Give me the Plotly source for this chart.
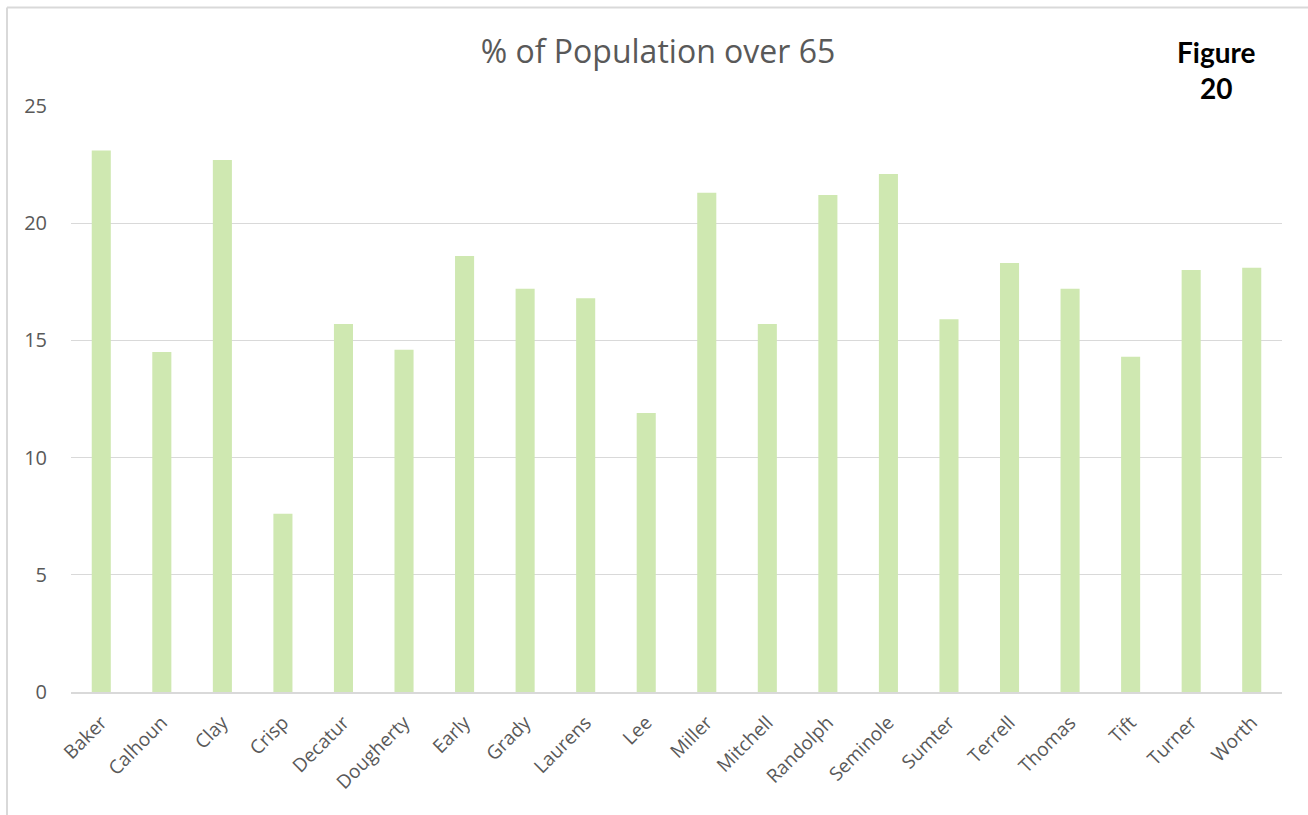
import plotly.graph_objects as go

counties = ["Baker", "Calhoun", "Clay", "Crisp", "Decatur", "Dougherty", "Early", "Grady",
            "Laurens", "Lee", "Miller", "Mitchell", "Randolph", "Seminole", "Sumter",
            "Terrell", "Thomas", "Tift", "Turner", "Worth"]
pct_over_65 = [23.1, 14.5, 22.7, 7.6, 15.7, 14.6, 18.6, 17.2, 16.8, 11.9,
               21.3, 15.7, 21.2, 22.1, 15.9, 18.3, 17.2, 14.3, 18.0, 18.1]
y_ticks = [0, 5, 10, 15, 20, 25]

W, H = 1308, 815
L, R, T, B = 71, 26, 106, 123
pw, ph = W - L - R, H - T - B

def px(x):
    return (x - L) / pw

def py(y):
    return (H - B - y) / ph

fig = go.Figure(go.Bar(
    x=counties, y=pct_over_65,
    marker=dict(color="#CFE8B1", line=dict(width=0)),
))

fig.update_layout(
    width=W, height=H,
    margin=dict(l=L, r=R, t=T, b=B, pad=0),
    paper_bgcolor="white", plot_bgcolor="white",
    bargap=0.685,
    showlegend=False,
    font=dict(family="Open Sans", color="#595959"),
    title=dict(text="% of Population over 65", x=(658) / W, xanchor="center",
               y=1 - 52 / H, yanchor="middle",
               font=dict(family="Open Sans", size=32, color="#595959")),
    xaxis=dict(showgrid=False, showline=True, linecolor="#D9D9D9", linewidth=2,
               ticks="", tickangle=-45, tickfont=dict(size=19, color="#595959"),
               ticklabelstandoff=10),
    yaxis=dict(range=[0, 25], tickvals=y_ticks, showgrid=True, gridcolor="#D9D9D9",
               gridwidth=1, zeroline=False, showline=False, ticks="",
               tickfont=dict(size=20, color="#595959"), ticklabelstandoff=23),
    annotations=[dict(text="<b>Figure</b><br><b>20</b>", xref="paper", yref="paper",
                      x=px(1216), y=py(70), xanchor="center", yanchor="middle",
                      showarrow=False, align="center",
                      font=dict(family="Lato", size=28, color="black"))],
    shapes=[
        dict(type="line", xref="paper", yref="paper", x0=px(7), x1=px(1308),
             y0=py(7.5), y1=py(7.5), line=dict(color="#D9D9D9", width=2)),
        dict(type="line", xref="paper", yref="paper", x0=px(7), x1=px(7),
             y0=py(7.5), y1=py(815), line=dict(color="#D9D9D9", width=2)),
    ],
)

fig.write_html("out.html")
